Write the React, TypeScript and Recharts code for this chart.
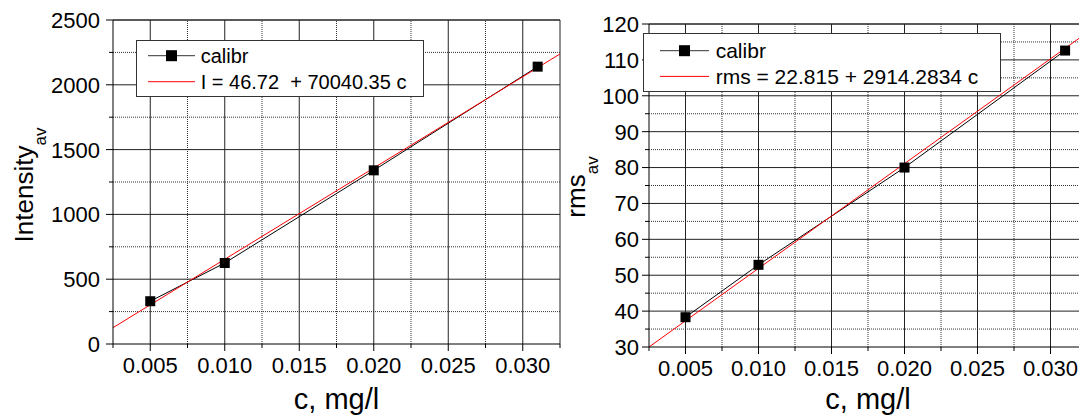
import React from "react";
import { LineChart, Line, XAxis, YAxis, ReferenceLine, Label } from "recharts";

// concentration of calibration samples, mg/l
const calC = [0.005, 0.01, 0.02, 0.031];
// left panel: averaged intensity
const intensity = [330, 625, 1340, 2140];
// right panel: averaged rms
const rmsValues = [38.3, 52.9, 80, 112.6];

// fitted lines, read at both ends of the c axis
const fitC = [0.0025, 0.0325];
const intensityFit = [126, 2238];
const rmsFit = [30, 117.6];

const cMajor = [0.005, 0.01, 0.015, 0.02, 0.025, 0.03];
const cMinor = [0.0025, 0.0075, 0.0125, 0.0175, 0.0225, 0.0275, 0.0325];

const intMajor = [0, 500, 1000, 1500, 2000, 2500];
const intMinor = [250, 750, 1250, 1750, 2250];
const rmsMajor = [30, 40, 50, 60, 70, 80, 90, 100, 110, 120];
const rmsMinor = [35, 45, 55, 65, 75, 85, 95, 105, 115];

const intLegend = ["calibr", "I = 46.72  + 70040.35 c"];
const rmsLegend = ["calibr", "rms = 22.815 + 2914.2834 c"];

const near = (arr: number[], v: number) => arr.some((m) => Math.abs(m - v) < 1e-9);

const Square = (props: any) => {
  const { cx, cy } = props;
  if (cx == null || cy == null) return null;
  return <rect x={cx - 5} y={cy - 5} width={10} height={10} fill="#000" />;
};

interface PanelProps {
  left: number;
  width: number;
  margin: { top: number; right: number; bottom: number; left: number };
  yDomain: [number, number];
  majorY: number[];
  minorY: number[];
  values: number[];
  fit: number[];
  yTitle: string;
  titleX: number;
  titleCY: number;
  labelGap: number;
  legend: string[];
  legendBox: { x: number; y: number; w: number; h: number; fs: number; rows: number[]; lx: [number, number]; tx: number };
}

function Panel(p: PanelProps) {
  const pts = calC.map((c, i) => ({ c, v: p.values[i] }));
  const fitPts = fitC.map((c, i) => ({ c, v: p.fit[i] }));
  const xTicks = [...cMajor, ...cMinor].sort((a, b) => a - b);
  const yTicks = [...p.majorY, ...p.minorY].sort((a, b) => a - b);
  const lb = p.legendBox;
  const topY = p.yDomain[1];
  const sqC = (lb.lx[0] + lb.lx[1]) / 2;

  return (
    <div style={{ position: "absolute", left: p.left, top: 0, width: p.width, height: 419 }}>
      <LineChart width={p.width} height={419} margin={p.margin}>
        <XAxis
          type="number"
          dataKey="c"
          domain={[0.0025, 0.0325]}
          allowDataOverflow
          ticks={xTicks}
          interval={0}
          height={45}
          tickLine={false}
          tickSize={0}
          tickMargin={0}
          axisLine={{ stroke: "#000" }}
          tick={(t: any) => {
            const major = near(cMajor, t.payload.value);
            return (
              <g>
                <line x1={t.x} x2={t.x} y1={t.y} y2={t.y + (major ? 7 : 4)} stroke="#000" />
                {major && (
                  <text x={t.x} y={t.y + 29} textAnchor="middle" fontSize={22} fill="#000">
                    {t.payload.value.toFixed(3)}
                  </text>
                )}
              </g>
            );
          }}
          label={{
            content: (lp: any) => {
              const vb = lp.viewBox || { x: 0, width: 0 };
              return (
                <text x={vb.x + vb.width / 2} y={409} textAnchor="middle" fontSize={29} fill="#000">
                  c, mg/l
                </text>
              );
            },
          }}
        />
        <YAxis
          type="number"
          domain={p.yDomain}
          allowDataOverflow
          ticks={yTicks}
          interval={0}
          width={100}
          tickLine={false}
          tickSize={0}
          tickMargin={0}
          axisLine={{ stroke: "#000" }}
          tick={(t: any) => {
            const major = near(p.majorY, t.payload.value);
            return (
              <g>
                <line x1={t.x - (major ? 7 : 4)} x2={t.x} y1={t.y} y2={t.y} stroke="#000" />
                {major && (
                  <text x={t.x - p.labelGap} y={t.y} dy="0.36em" textAnchor="end" fontSize={22} fill="#000">
                    {t.payload.value}
                  </text>
                )}
              </g>
            );
          }}
          label={{
            content: () => (
              <text
                x={p.titleX}
                y={p.titleCY}
                transform={`rotate(-90, ${p.titleX}, ${p.titleCY})`}
                textAnchor="middle"
                fontSize={26}
                fill="#000"
              >
                {p.yTitle}
                <tspan dy={13} fontSize={17}>av</tspan>
              </text>
            ),
          }}
        />
        {p.minorY.map((v) => (
          <ReferenceLine key={"hy" + v} y={v} stroke="#333" strokeDasharray="1 1" />
        ))}
        {cMinor.slice(1, -1).map((v) => (
          <ReferenceLine key={"vx" + v} x={v} stroke="#333" strokeDasharray="1 1" />
        ))}
        {p.majorY.slice(1).map((v) => (
          <ReferenceLine key={"HY" + v} y={v} stroke="#222" />
        ))}
        {cMajor.map((v) => (
          <ReferenceLine key={"VX" + v} x={v} stroke="#222" />
        ))}
        <ReferenceLine x={0.0325} stroke="#222" />
        <ReferenceLine y={topY} stroke="#222" />
        <Line data={pts} dataKey="v" stroke="#000" strokeWidth={1} dot={Square} activeDot={false} isAnimationActive={false} />
        <Line data={fitPts} dataKey="v" stroke="#ff0000" strokeWidth={1} dot={false} activeDot={false} isAnimationActive={false} />
      </LineChart>
      <svg
        width={lb.w}
        height={lb.h}
        style={{ position: "absolute", left: lb.x, top: lb.y }}
      >
        <rect x={0.5} y={0.5} width={lb.w - 1} height={lb.h - 1} fill="#fff" stroke="#333" />
        <line x1={lb.lx[0]} x2={lb.lx[1]} y1={lb.rows[0]} y2={lb.rows[0]} stroke="#333" />
        <rect x={sqC - 5.5} y={lb.rows[0] - 5.5} width={11} height={11} fill="#000" />
        <line x1={lb.lx[0]} x2={lb.lx[1]} y1={lb.rows[1]} y2={lb.rows[1]} stroke="#ff0000" />
        {p.legend.map((s, i) => (
          <text key={i} x={lb.tx} y={lb.rows[i]} dy="0.36em" fontSize={lb.fs} fill="#000" style={{ whiteSpace: "pre" }}>
            {s}
          </text>
        ))}
      </svg>
    </div>
  );
}

export default function App() {
  return (
    <div
      style={{
        position: "absolute",
        left: 0,
        top: 0,
        width: 1079,
        height: 419,
        overflow: "hidden",
        background: "#fff",
        fontFamily: "'Liberation Sans', Arial, sans-serif",
      }}
    >
      <Panel
        left={0}
        width={570}
        margin={{ top: 20, right: 10, bottom: 30, left: 13 }}
        yDomain={[0, 2500]}
        majorY={intMajor}
        minorY={intMinor}
        values={intensity}
        fit={intensityFit}
        yTitle="Intensity"
        titleX={33}
        titleCY={185}
        labelGap={13}
        legend={intLegend}
        legendBox={{ x: 136, y: 40, w: 288, h: 57, fs: 20, rows: [15.7, 41.7], lx: [12, 59], tx: 64.7 }}
      />
      <Panel
        left={540}
        width={560}
        margin={{ top: 24, right: 13, bottom: 27, left: 9 }}
        yDomain={[30, 120]}
        majorY={rmsMajor}
        minorY={rmsMinor}
        values={rmsValues}
        fit={rmsFit}
        yTitle="rms"
        titleX={45}
        titleCY={187}
        labelGap={10}
        legend={rmsLegend}
        legendBox={{ x: 103, y: 33, w: 358, h: 59, fs: 21, rows: [17.7, 43.4], lx: [17, 66], tx: 72.7 }}
      />
    </div>
  );
}
